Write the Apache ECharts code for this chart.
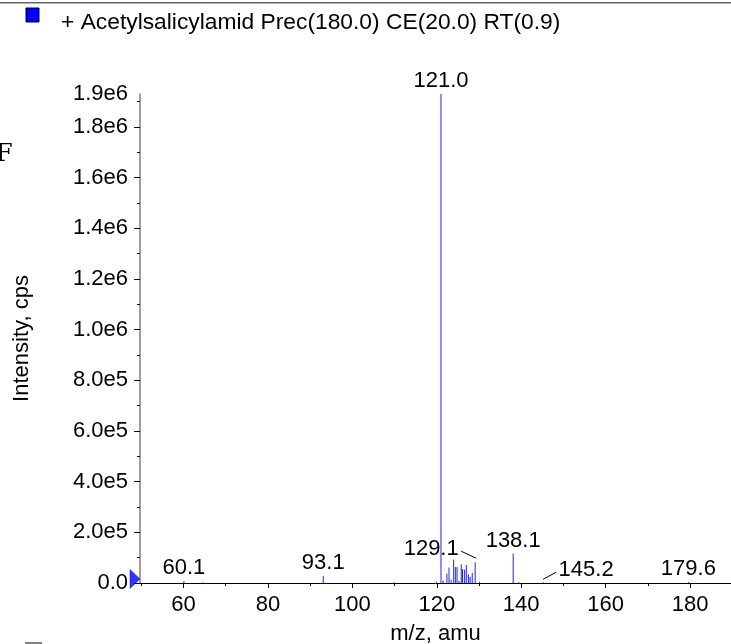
<!DOCTYPE html>
<html><head><meta charset="utf-8">
<script src="https://cdn.jsdelivr.net/npm/echarts@6/dist/echarts.min.js"></script>
<style>html,body{margin:0;padding:0;background:#fff}#c{width:731px;height:644px}</style>
</head><body><div id="c"></div>
<script>
const titleText = '+ Acetylsalicylamid Prec(180.0) CE(20.0) RT(0.9)';
const xAxisName = 'm/z, amu';
const yAxisName = 'Intensity, cps';

const mzValues = [60.1, 64.6, 93.1, 109.9, 119.9, 121.0, 121.5, 122.4, 122.9, 123.4, 124.0, 124.4, 124.8, 125.3, 125.8, 126.1, 126.6, 127.0, 127.5, 127.9, 128.4, 129.1, 130.1, 138.1, 139.4, 145.2, 179.6];
const intensities = [7000, 3000, 28000, 3000, 5000, 1930000, 10000, 37000, 61000, 13000, 92000, 63000, 63000, 8000, 74000, 55000, 53000, 71000, 34000, 24000, 40000, 82000, 4000, 116000, 4000, 3000, 4000];

const labelMz = [60.1, 93.1, 121.0, 129.1, 138.1, 145.2, 179.6];
const labelTexts = ['60.1', '93.1', '121.0', '129.1', '138.1', '145.2', '179.6'];

const xTickValues = [60, 80, 100, 120, 140, 160, 180];
const xMinorTickValues = [50, 70, 90, 110, 130, 150, 170];
const yTickValues = [0, 200000, 400000, 600000, 800000, 1000000, 1200000, 1400000, 1600000, 1800000];
const yTickLabels = ['0.0', '2.0e5', '4.0e5', '6.0e5', '8.0e5', '1.0e6', '1.2e6', '1.4e6', '1.6e6', '1.8e6'];
const yMinorTickValues = [100000, 300000, 500000, 700000, 900000, 1100000, 1300000, 1500000, 1700000, 1900000];
const xMin = 49.7, xMax = 189.7, yMax = 1930000, yMaxLabel = '1.9e6';

const FONT = '"Liberation Sans", Arial, Helvetica, sans-serif';
const peakColor = '#2020ff';
// label placement style (pixel offsets from peak top)
const labelStyle = {
  '129.1': {dx: -44, dy: -13, leader: [[-14, -11], [1, -4]]},
  '145.2': {dx: 43, dy: -12, leader: [[0, -3], [13, -10]]}
};

const chart = echarts.init(document.getElementById('c'), null, {renderer: 'canvas'});

const labelData = labelMz.map((m, i) => [m, intensities[mzValues.indexOf(m)], labelTexts[i]]);

const option = {
  animation: false,
  backgroundColor: '#fff',
  textStyle: {fontFamily: FONT},
  title: {
    text: titleText, left: 56, top: 6,
    textStyle: {fontSize: 22.8, fontWeight: 'normal', color: '#000', fontFamily: FONT}
  },
  graphic: [
    {type: 'rect', x: 0, y: 2, shape: {width: 731, height: 1.5}, style: {fill: '#666'}, silent: true},
    {type: 'rect', x: 26, y: 8, shape: {width: 13, height: 14}, style: {fill: '#0000ff', stroke: '#00003a', lineWidth: 1}, silent: true},
    {type: 'text', x: -4, y: 143, style: {text: 'F', fontFamily: '"DejaVu Serif", serif', fontSize: 24, fill: '#000'}, silent: true},
    {type: 'rect', x: 25, y: 642, shape: {width: 17, height: 2}, style: {fill: '#808080'}, silent: true}
  ],
  grid: {left: 140, right: 0, top: 94, bottom: 61, containLabel: false, outerBoundsMode: 'none'},
  xAxis: [{
    type: 'value', min: xMin, max: xMax, position: 'bottom',
    name: xAxisName, nameLocation: 'middle', nameGap: 40,
    nameTextStyle: {fontSize: 22, color: '#000', fontFamily: FONT},
    axisLine: {show: true, lineStyle: {color: '#000', width: 1}},
    axisTick: {show: true, customValues: xTickValues, length: 5, lineStyle: {color: '#000'}},
    axisLabel: {customValues: xTickValues, fontSize: 22, color: '#000', margin: 11, fontFamily: FONT},
    splitLine: {show: false}
  }, {
    type: 'value', min: xMin, max: xMax, position: 'bottom',
    axisLine: {show: false},
    axisTick: {show: true, customValues: xMinorTickValues, length: 3, lineStyle: {color: '#000'}},
    axisLabel: {show: false}, splitLine: {show: false}
  }],
  yAxis: [{
    type: 'value', min: 0, max: yMax, position: 'left',
    name: yAxisName, nameLocation: 'middle', nameGap: 107, nameRotate: 90,
    nameTextStyle: {fontSize: 22, color: '#000', fontFamily: FONT},
    axisLine: {show: true, lineStyle: {color: '#808080', width: 1.5}},
    axisTick: {show: true, customValues: yTickValues, length: 6, lineStyle: {color: '#000'}},
    axisLabel: {
      customValues: yTickValues.concat([yMax]), fontSize: 22, color: '#000', margin: 12, fontFamily: FONT,
      formatter: v => { if (v === yMax) return yMaxLabel; const i = yTickValues.indexOf(v); return i >= 0 ? yTickLabels[i] : ''; }
    },
    splitLine: {show: false}
  }, {
    type: 'value', min: 0, max: yMax, position: 'left', offset: 0,
    axisLine: {show: false},
    axisTick: {show: true, customValues: yMinorTickValues, length: 3, lineStyle: {color: '#000'}},
    axisLabel: {show: false}, splitLine: {show: false}
  }],
  series: [{
    type: 'custom', name: 'peaks', xAxisIndex: 0, yAxisIndex: 0,
    data: mzValues.map((m, i) => [m, intensities[i]]),
    encode: {x: 0, y: 1},
    renderItem: (params, api) => {
      const p0 = api.coord([api.value(0), 0]);
      const p1 = api.coord([api.value(0), api.value(1)]);
      return {type: 'line', shape: {x1: p0[0], y1: p0[1], x2: p1[0], y2: p1[1]}, style: {stroke: peakColor, lineWidth: 1}};
    },
    silent: true
  }, {
    type: 'custom', name: 'labels', xAxisIndex: 0, yAxisIndex: 0,
    data: labelData,
    encode: {x: 0, y: 1},
    renderItem: (params, api) => {
      const item = labelData[params.dataIndex];
      const p = api.coord([item[0], item[1]]);
      const st = labelStyle[item[2]] || {dx: 0, dy: -13};
      const children = [{
        type: 'text', x: p[0] + st.dx, y: p[1] + st.dy,
        style: {text: item[2], fill: '#000', fontSize: 22, fontFamily: FONT, align: 'center', verticalAlign: 'middle'}
      }];
      if (st.leader) {
        children.push({type: 'line', shape: {x1: p[0] + st.leader[0][0], y1: p[1] + st.leader[0][1], x2: p[0] + st.leader[1][0], y2: p[1] + st.leader[1][1]}, style: {stroke: '#000', lineWidth: 1}});
      }
      return {type: 'group', children};
    },
    silent: true, clip: false
  }, {
    type: 'scatter', name: 'origin', xAxisIndex: 0, yAxisIndex: 0,
    data: [[xMin, 0]], symbol: 'triangle', symbolSize: [19, 10], symbolRotate: -90, symbolOffset: [-5, -4],
    itemStyle: {color: '#0000ff', borderColor: '#00003a', borderWidth: 0.5}, clip: false, silent: true, z: 10
  }]
};
chart.setOption(option);
</script>
</body></html>
